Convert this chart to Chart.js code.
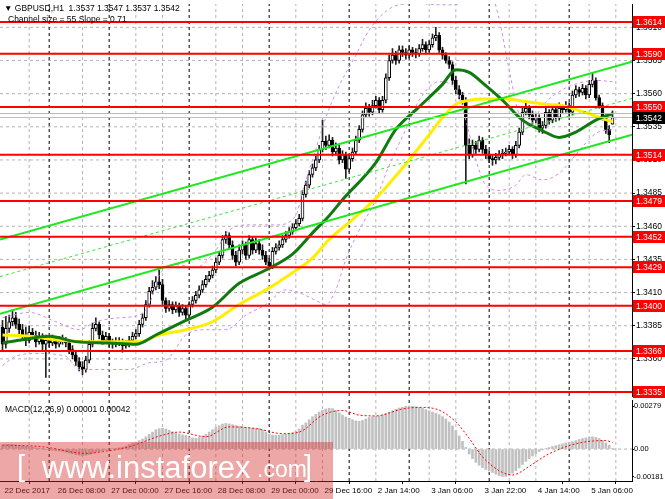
<!DOCTYPE html>
<html>
<head>
<meta charset="utf-8">
<script src="https://cdn.jsdelivr.net/npm/chart.js@4.4.1/dist/chart.umd.min.js"></script>
<style>
  body { margin: 0; background: #fff; }
  #wrap { position: relative; width: 665px; height: 499px; overflow: hidden; font-family: "Liberation Sans", Arial, sans-serif; }
  canvas { position: absolute; left: 0; }
  .txt { position: absolute; font-size: 8.5px; line-height: 1; color: #000; white-space: pre; }
  #wm { position: absolute; left: 0; top: 442px; width: 333px; height: 57px; background: rgba(214, 45, 45, 0.42); color: #fff; }
  #wm span { position: absolute; line-height: 1; white-space: pre; }
</style>
</head>
<body>
<div id="wrap">
  <canvas id="main" width="665" height="399" style="top:0"></canvas>
  <canvas id="macd" width="665" height="100" style="top:399px"></canvas>
  <div class="txt" style="left:4px;top:4px">▼ GBPUSD,H1  1.3537 1.3547 1.3537 1.3542</div>
  <div class="txt" style="left:8px;top:15px">Channel size = 55 Slope = 0.71</div>
  <div class="txt" style="left:5px;top:405px">MACD(12,26,9) 0.00001 0.00042</div>
  <div id="wm">
    <span style="left:17px;top:10px;font-size:29px">[</span>
    <span style="left:42px;top:10px;font-size:31px">www.instaforex</span>
    <span style="left:257px;top:16px;font-size:23px">.com</span>
    <span style="left:304px;top:10px;font-size:29px">]</span>
  </div>
</div>
<script>
'use strict';

// GBPUSD H1, 22 Dec 2017 - 5 Jan 2018, one entry per bar
const openP = [
  1.3384,1.3371,1.3383,1.3388,1.3391,1.3386,1.3382,1.3378,1.3374,1.3380,
  1.3378,1.3373,1.3376,1.3371,1.3374,1.3372,1.3374,1.3371,1.3373,1.3374,
  1.3372,1.3367,1.3363,1.3358,1.3354,1.3352,1.3359,1.3371,1.3383,1.3386,
  1.3378,1.3374,1.3377,1.3372,1.3371,1.3372,1.3373,1.3370,1.3371,1.3374,
  1.3377,1.3379,1.3386,1.3391,1.3401,1.3411,1.3414,1.3418,1.3416,1.3404,
  1.3398,1.3401,1.3397,1.3400,1.3395,1.3398,1.3393,1.3401,1.3404,1.3408,
  1.3412,1.3416,1.3420,1.3423,1.3427,1.3433,1.3438,1.3450,1.3453,1.3446,
  1.3438,1.3433,1.3442,1.3446,1.3438,1.3450,1.3442,1.3447,1.3442,1.3438,
  1.3433,1.3430,1.3441,1.3444,1.3446,1.3450,1.3453,1.3456,1.3459,1.3462,
  1.3466,1.3484,1.3491,1.3499,1.3504,1.3510,1.3518,1.3524,1.3521,1.3525,
  1.3516,1.3519,1.3510,1.3514,1.3503,1.3511,1.3516,1.3525,1.3533,1.3544,
  1.3549,1.3546,1.3551,1.3555,1.3548,1.3555,1.3572,1.3585,1.3589,1.3585,
  1.3593,1.3591,1.3589,1.3593,1.3591,1.3590,1.3594,1.3597,1.3593,1.3597,
  1.3602,1.3604,1.3593,1.3589,1.3585,1.3582,1.3570,1.3563,1.3559,1.3555,
  1.3521,1.3514,1.3521,1.3518,1.3525,1.3518,1.3514,1.3511,1.3510,1.3512,
  1.3514,1.3515,1.3516,1.3518,1.3514,1.3521,1.3531,1.3546,1.3549,1.3544,
  1.3540,1.3542,1.3534,1.3536,1.3546,1.3540,1.3548,1.3542,1.3549,1.3548,
  1.3551,1.3546,1.3559,1.3563,1.3561,1.3564,1.3559,1.3567,1.3570,1.3557,
  1.3551,1.3542,1.3533,1.3537
];
const highP = [
  1.3389,1.3392,1.3393,1.3397,1.3395,1.3390,1.3386,1.3384,1.3385,1.3383,
  1.3381,1.3380,1.3379,1.3378,1.3377,1.3378,1.3376,1.3377,1.3378,1.3376,
  1.3374,1.3370,1.3366,1.3361,1.3358,1.3362,1.3374,1.3387,1.3391,1.3388,
  1.3381,1.3380,1.3379,1.3375,1.3376,1.3376,1.3375,1.3374,1.3377,1.3380,
  1.3382,1.3389,1.3394,1.3404,1.3414,1.3419,1.3422,1.3427,1.3420,1.3406,
  1.3404,1.3403,1.3403,1.3402,1.3401,1.3400,1.3403,1.3407,1.3411,1.3415,
  1.3419,1.3423,1.3426,1.3430,1.3436,1.3441,1.3453,1.3456,1.3455,1.3449,
  1.3441,1.3446,1.3449,1.3448,1.3453,1.3452,1.3451,1.3450,1.3446,1.3441,
  1.3436,1.3444,1.3447,1.3449,1.3453,1.3456,1.3459,1.3462,1.3465,1.3469,
  1.3487,1.3494,1.3502,1.3507,1.3513,1.3521,1.3540,1.3528,1.3529,1.3527,
  1.3523,1.3521,1.3517,1.3516,1.3514,1.3519,1.3528,1.3536,1.3547,1.3553,
  1.3552,1.3555,1.3558,1.3557,1.3558,1.3575,1.3589,1.3594,1.3592,1.3596,
  1.3596,1.3594,1.3596,1.3595,1.3594,1.3597,1.3601,1.3599,1.3600,1.3605,
  1.3610,1.3606,1.3595,1.3591,1.3588,1.3584,1.3573,1.3566,1.3561,1.3557,
  1.3526,1.3525,1.3524,1.3528,1.3527,1.3521,1.3517,1.3514,1.3515,1.3517,
  1.3518,1.3519,1.3521,1.3520,1.3524,1.3534,1.3550,1.3553,1.3551,1.3547,
  1.3545,1.3544,1.3539,1.3549,1.3548,1.3551,1.3550,1.3553,1.3551,1.3554,
  1.3553,1.3562,1.3566,1.3565,1.3567,1.3566,1.3570,1.3576,1.3572,1.3559,
  1.3553,1.3544,1.3536,1.3547
];
const lowP = [
  1.3366,1.3368,1.3380,1.3385,1.3383,1.3379,1.3375,1.3370,1.3372,1.3375,
  1.3369,1.3371,1.3367,1.3346,1.3369,1.3370,1.3368,1.3369,1.3371,1.3369,
  1.3364,1.3360,1.3355,1.3351,1.3348,1.3350,1.3357,1.3369,1.3381,1.3375,
  1.3371,1.3372,1.3369,1.3368,1.3369,1.3370,1.3365,1.3368,1.3369,1.3372,
  1.3375,1.3377,1.3384,1.3389,1.3399,1.3409,1.3412,1.3413,1.3401,1.3395,
  1.3396,1.3394,1.3395,1.3392,1.3393,1.3390,1.3391,1.3399,1.3402,1.3406,
  1.3410,1.3414,1.3418,1.3421,1.3425,1.3431,1.3436,1.3447,1.3443,1.3435,
  1.3430,1.3431,1.3439,1.3435,1.3436,1.3439,1.3440,1.3439,1.3435,1.3431,
  1.3427,1.3428,1.3439,1.3442,1.3444,1.3448,1.3451,1.3454,1.3457,1.3460,
  1.3464,1.3482,1.3489,1.3497,1.3502,1.3508,1.3516,1.3518,1.3519,1.3513,
  1.3514,1.3507,1.3508,1.3496,1.3501,1.3509,1.3514,1.3523,1.3531,1.3542,
  1.3543,1.3544,1.3549,1.3545,1.3546,1.3553,1.3570,1.3583,1.3582,1.3583,
  1.3588,1.3586,1.3587,1.3588,1.3587,1.3588,1.3592,1.3590,1.3591,1.3595,
  1.3600,1.3591,1.3586,1.3583,1.3579,1.3567,1.3560,1.3556,1.3552,1.3492,
  1.3511,1.3512,1.3515,1.3516,1.3515,1.3511,1.3508,1.3506,1.3507,1.3510,
  1.3511,1.3513,1.3514,1.3511,1.3512,1.3519,1.3529,1.3544,1.3541,1.3537,
  1.3538,1.3531,1.3530,1.3534,1.3537,1.3538,1.3539,1.3540,1.3545,1.3546,
  1.3543,1.3544,1.3557,1.3558,1.3559,1.3556,1.3557,1.3565,1.3555,1.3549,
  1.3540,1.3530,1.3523,1.3537
];
const closeP = [
  1.3371,1.3383,1.3388,1.3391,1.3386,1.3382,1.3378,1.3374,1.3380,1.3378,
  1.3373,1.3376,1.3371,1.3374,1.3372,1.3374,1.3371,1.3373,1.3374,1.3372,
  1.3367,1.3363,1.3358,1.3354,1.3352,1.3359,1.3371,1.3383,1.3386,1.3378,
  1.3374,1.3377,1.3372,1.3371,1.3372,1.3373,1.3370,1.3371,1.3374,1.3377,
  1.3379,1.3386,1.3391,1.3401,1.3411,1.3414,1.3418,1.3416,1.3404,1.3398,
  1.3401,1.3397,1.3400,1.3395,1.3398,1.3393,1.3401,1.3404,1.3408,1.3412,
  1.3416,1.3420,1.3423,1.3427,1.3433,1.3438,1.3450,1.3453,1.3446,1.3438,
  1.3433,1.3442,1.3446,1.3438,1.3450,1.3442,1.3447,1.3442,1.3438,1.3433,
  1.3430,1.3441,1.3444,1.3446,1.3450,1.3453,1.3456,1.3459,1.3462,1.3466,
  1.3484,1.3491,1.3499,1.3504,1.3510,1.3518,1.3524,1.3521,1.3525,1.3516,
  1.3519,1.3510,1.3514,1.3503,1.3511,1.3516,1.3525,1.3533,1.3544,1.3549,
  1.3546,1.3551,1.3555,1.3548,1.3555,1.3572,1.3585,1.3589,1.3585,1.3593,
  1.3591,1.3589,1.3593,1.3591,1.3590,1.3594,1.3597,1.3593,1.3597,1.3602,
  1.3604,1.3593,1.3589,1.3585,1.3582,1.3570,1.3563,1.3559,1.3555,1.3521,
  1.3514,1.3521,1.3518,1.3525,1.3518,1.3514,1.3511,1.3510,1.3512,1.3514,
  1.3515,1.3516,1.3518,1.3514,1.3521,1.3531,1.3546,1.3549,1.3544,1.3540,
  1.3542,1.3534,1.3536,1.3546,1.3540,1.3548,1.3542,1.3549,1.3548,1.3551,
  1.3546,1.3559,1.3563,1.3561,1.3564,1.3559,1.3567,1.3570,1.3557,1.3551,
  1.3542,1.3533,1.3529,1.3542
];

// moving averages (read at bar index)
const yellowMaBars = [0,8,17,26,35,41,47,55,63,71,79,87,93,98,105,112,117,122,128,132,136,140,145,151,157,163,168,172,177,180,183];
const yellowMaVals = [1.3378,1.3377,1.3374,1.3373,1.3373,1.3373,1.3378,1.3382,1.3388,1.3401,1.3412,1.3425,1.3436,1.3450,1.3465,1.3481,1.3495,1.3510,1.3529,1.3542,1.3552,1.3555,1.3556,1.3556,1.3554,1.3552,1.3551,1.3548,1.3544,1.3541,1.3539];
const greenMaBars = [0,5,14,22,32,40,46,55,63,71,79,87,93,98,102,112,118,125,132,136,140,145,150,156,162,167,172,178,183];
const greenMaVals = [1.3372,1.3374,1.3377,1.3373,1.3372,1.3371,1.3378,1.3389,1.3399,1.3417,1.3427,1.3439,1.3455,1.3468,1.3480,1.3508,1.3533,1.3550,1.3567,1.3578,1.3576,1.3566,1.3555,1.3540,1.3532,1.3527,1.3531,1.3540,1.3545];

// bands (purple dotted)
const bandUpBars = [0,8,16,23,28,35,41,44,47,52,58,64,68,74,82,88,90,94,97,101,106,110,115,119,125,131,136,140,146,149,152,155,158,162,168,173,178,183];
const bandUpVals = [1.3391,1.3395,1.3388,1.3382,1.3388,1.3391,1.3393,1.3401,1.3423,1.3431,1.3429,1.3442,1.3457,1.3461,1.3461,1.3468,1.3486,1.3518,1.3542,1.3566,1.3589,1.3608,1.3622,1.3627,1.3628,1.3627,1.3627,1.3634,1.3638,1.3616,1.3578,1.3544,1.3536,1.3551,1.3563,1.3568,1.3570,1.3569];
const bandLowBars = [0,4,10,19,23,38,44,49,55,61,67,73,79,85,89,94,97,100,103,107,112,116,121,125,131,136,139,142,145,149,154,157,162,167,172,178,183];
const bandLowVals = [1.3355,1.3362,1.3364,1.3362,1.3352,1.3352,1.3357,1.3359,1.3378,1.3382,1.3382,1.3393,1.3401,1.3412,1.3410,1.3404,1.3401,1.3412,1.3435,1.3457,1.3480,1.3506,1.3533,1.3555,1.3569,1.3563,1.3540,1.3510,1.3491,1.3487,1.3491,1.3499,1.3495,1.3500,1.3514,1.3530,1.3533];

// regression channel end points
const channelBars = [-0.75, 188.85];
const channelUpper = [1.3450, 1.3584];
const channelMid = [1.3422, 1.35565];
const channelLower = [1.3394, 1.3529];

// horizontal levels
const levels = [1.3614, 1.3590, 1.3550, 1.3514, 1.3479, 1.3452, 1.3429, 1.3400, 1.3366, 1.3335];
const bidPrice = 1.3542;
const askPrice = 1.3545;
const priceTicks = [1.3335, 1.3360, 1.3385, 1.3410, 1.3435, 1.3460, 1.3485, 1.3510, 1.3535, 1.3560, 1.3585, 1.3610];
const priceMin = 1.3332, priceMax = 1.36276;

// MACD(12,26,9)
const macdHist = [
  0.00025,0.00028,0.00030,0.00030,0.00028,0.00025,0.00022,0.00018,0.00015,0.00012,
  0.00008,0.00005,0.00002,-0.00002,-0.00005,-0.00008,-0.00010,-0.00012,-0.00015,-0.00020,
  -0.00025,-0.00030,-0.00036,-0.00040,-0.00042,-0.00040,-0.00035,-0.00028,-0.00020,-0.00015,
  -0.00010,-0.00005,0.00000,0.00003,0.00004,0.00008,0.00012,0.00018,0.00030,0.00040,
  0.00045,0.00055,0.00065,0.00080,0.00095,0.00110,0.00125,0.00132,0.00135,0.00130,
  0.00122,0.00112,0.00103,0.00097,0.00092,0.00088,0.00078,0.00072,0.00069,0.00075,
  0.00085,0.00095,0.00110,0.00125,0.00140,0.00152,0.00162,0.00166,0.00163,0.00158,
  0.00152,0.00148,0.00144,0.00140,0.00138,0.00136,0.00134,0.00133,0.00125,0.00110,
  0.00098,0.00090,0.00088,0.00090,0.00093,0.00097,0.00100,0.00105,0.00115,0.00130,
  0.00155,0.00170,0.00190,0.00210,0.00225,0.00240,0.00252,0.00260,0.00265,0.00262,
  0.00250,0.00235,0.00220,0.00208,0.00198,0.00190,0.00183,0.00180,0.00185,0.00195,
  0.00205,0.00210,0.00212,0.00215,0.00222,0.00230,0.00238,0.00248,0.00258,0.00266,
  0.00272,0.00277,0.00279,0.00278,0.00274,0.00270,0.00264,0.00256,0.00248,0.00240,
  0.00232,0.00223,0.00210,0.00195,0.00175,0.00150,0.00120,0.00085,0.00050,0.00010,
  -0.00032,-0.00062,-0.00086,-0.00105,-0.00120,-0.00132,-0.00142,-0.00152,-0.00163,-0.00172,
  -0.00177,-0.00178,-0.00170,-0.00156,-0.00140,-0.00122,-0.00100,-0.00080,-0.00062,-0.00045,
  -0.00030,-0.00016,-0.00006,0.00002,0.00010,0.00016,0.00022,0.00028,0.00034,0.00040,
  0.00044,0.00048,0.00055,0.00062,0.00068,0.00073,0.00077,0.00079,0.00075,0.00068,
  0.00056,0.00040,0.00025,0.00001
];
const signalBars = [0,12,25,30,38,48,53,61,68,76,84,89,96,102,107,112,120,125,130,136,140,144,149,153,158,163,169,175,181,183];
const signalVals = [0.00026,0.00015,-0.00028,-0.00017,0.00015,0.00090,0.00110,0.00080,0.00144,0.00133,0.00100,0.00110,0.00220,0.00250,0.00220,0.00215,0.00260,0.00270,0.00260,0.00176,0.00069,-0.00050,-0.00140,-0.00168,-0.00112,-0.00042,0.00015,0.00047,0.00055,0.00042];
const macdTicks = [-0.00181, 0, 0.00279];
const macdMin = -0.00207, macdMax = 0.00318;

// time axis
const timeLabels = ['22 Dec 2017','26 Dec 08:00','27 Dec 00:00','27 Dec 16:00','28 Dec 08:00','29 Dec 00:00','29 Dec 16:00','2 Jan 14:00','3 Jan 06:00','3 Jan 22:00','4 Jan 14:00','5 Jan 06:00'];
const timeLabelBars = [0,16,32,48,64,80,96,112,128,144,160,176];
const separatorBars = [14,32,56,80,104,122,146,170];
const gridStep = 8;
const xMin = -0.75, xMax = 188.85;

Chart.defaults.font.family = '"Liberation Sans", Arial, sans-serif';
Chart.defaults.font.size = 8.5;
Chart.defaults.color = '#000';

const gridColor = '#b4b4b4';
const pts = (xs, ys) => xs.map((x, k) => ({ x: x, y: ys[k] }));

function lineSet(data, color, width, order, dash, straight) {
  return {
    type: 'line', data: data, borderColor: color, borderWidth: width,
    borderDash: dash || [], pointRadius: 0, fill: false, order: order,
    tension: 0, cubicInterpolationMode: straight ? 'default' : 'monotone'
  };
}

// grid rules drawn as straight dashed datasets, behind everything else
const gridBars = [];
for (let b = gridStep; b < xMax; b += gridStep) {
  if (!separatorBars.some(s => Math.abs(s - b) < 3)) gridBars.push(b);
}
function gridSets(lo, hi, hVals) {
  const out = [];
  hVals.forEach(v => out.push(lineSet(pts([xMin, xMax], [v, v]), gridColor, 1, 20, [3, 3], true)));
  gridBars.forEach(b => out.push(lineSet(pts([b, b], [lo, hi]), gridColor, 1, 20, [3, 3], true)));
  separatorBars.forEach(b => out.push(lineSet(pts([b, b], [lo, hi]), '#000', 1, 19, [3, 3], true)));
  return out;
}

// price boxes on the right scale
const priceBoxes = {
  id: 'priceBoxes',
  afterDraw(chart) {
    const ctx = chart.ctx;
    const y = chart.scales.y;
    const box = (v, bg) => {
      const py = Math.round(y.getPixelForValue(v));
      ctx.fillStyle = bg;
      ctx.fillRect(633, py - 6, 32, 12);
      ctx.fillStyle = '#fff';
      ctx.font = '8.5px "Liberation Sans", Arial, sans-serif';
      ctx.textBaseline = 'middle';
      ctx.fillText(v.toFixed(4), 636, py + 0.5);
    };
    ctx.save();
    levels.forEach(v => box(v, '#ff0000'));
    box(bidPrice, '#000000');
    ctx.restore();
  }
};

const noPad = s => { s.paddingTop = 0; s.paddingBottom = 0; s.paddingLeft = 0; s.paddingRight = 0; };

const mainSets = gridSets(priceMin, priceMax, priceTicks);
levels.forEach(v => mainSets.push(lineSet(pts([xMin, xMax], [v, v]), '#ff0000', 2, 1, null, true)));
mainSets.push(lineSet(pts([xMin, xMax], [askPrice, askPrice]), '#ffa07a', 1, 1, null, true));
mainSets.push(lineSet(pts([xMin, xMax], [bidPrice, bidPrice]), '#c0c0c0', 1, 1, null, true));
mainSets.push(lineSet(pts(channelBars, channelUpper), 'rgb(30,232,30)', 2, 2, null, true));
mainSets.push(lineSet(pts(channelBars, channelLower), 'rgb(30,232,30)', 2, 2, null, true));
mainSets.push(lineSet(pts(channelBars, channelMid), 'rgb(60,225,60)', 1, 2, [3, 3], true));
mainSets.push(lineSet(pts(greenMaBars, greenMaVals), 'rgb(16,122,16)', 3, 3));
mainSets.push(lineSet(pts(yellowMaBars, yellowMaVals), 'rgb(255,238,0)', 3, 4));
mainSets.push(lineSet(pts(bandUpBars, bandUpVals), 'rgb(204,140,236)', 1, 5, [3, 3]));
mainSets.push(lineSet(pts(bandLowBars, bandLowVals), 'rgb(204,140,236)', 1, 5, [3, 3]));
mainSets.push({
  type: 'bar', order: 6, grouped: false, barThickness: 3, minBarLength: 1,
  data: closeP.map((c, i) => ({ x: i, y: [openP[i], c] })),
  backgroundColor: ctx => closeP[ctx.dataIndex] >= openP[ctx.dataIndex] ? '#ffffff' : '#000000',
  borderColor: '#000', borderWidth: 1, borderSkipped: false
});
mainSets.push({
  type: 'bar', order: 7, grouped: false, barThickness: 1,
  data: closeP.map((c, i) => ({ x: i, y: [lowP[i], highP[i]] })),
  backgroundColor: '#222', borderWidth: 0
});

new Chart(document.getElementById('main'), {
  type: 'bar',
  data: { datasets: mainSets },
  options: {
    responsive: false, animation: false, devicePixelRatio: 1,
    layout: { padding: { left: 0, right: 0, top: 4, bottom: 3 } },
    plugins: { legend: { display: false }, tooltip: { enabled: false } },
    scales: {
      x: { type: 'linear', min: xMin, max: xMax, offset: false, display: false },
      y: {
        position: 'right', min: priceMin, max: priceMax,
        afterBuildTicks(s) { s.ticks = priceTicks.map(v => ({ value: v })); },
        afterFit(s) { s.width = 33; noPad(s); },
        grid: { drawOnChartArea: false, tickColor: '#000', tickLength: 3 },
        border: { display: true, color: '#000' },
        ticks: { autoSkip: false, padding: 1, callback: v => v.toFixed(4) }
      }
    }
  },
  plugins: [priceBoxes]
});

const macdSets = gridSets(macdMin, macdMax, [0]);
macdSets.push(lineSet(pts(signalBars, signalVals), '#ff0000', 1, 1, [2, 2]));
macdSets.push({
  type: 'bar', order: 2, grouped: false, barThickness: 2,
  data: macdHist.map((v, i) => ({ x: i, y: v })),
  backgroundColor: '#c0c0c0', borderWidth: 0
});

new Chart(document.getElementById('macd'), {
  type: 'bar',
  data: { datasets: macdSets },
  options: {
    responsive: false, animation: false, devicePixelRatio: 1,
    layout: { padding: { left: 0, right: 0, top: 1, bottom: 0 } },
    plugins: { legend: { display: false }, tooltip: { enabled: false } },
    scales: {
      x: {
        type: 'linear', min: xMin, max: xMax, offset: false,
        afterBuildTicks(s) { s.ticks = timeLabelBars.map(v => ({ value: v })); },
        afterFit(s) { s.height = 18; noPad(s); },
        grid: { display: true, drawOnChartArea: false, drawTicks: true, tickLength: 3, color: '#000' },
        border: { display: true, color: '#000' },
        ticks: { autoSkip: false, maxRotation: 0, align: 'start', labelOffset: 2, padding: 2, font: { size: 8 },
                 callback: (v, i) => timeLabels[i] }
      },
      y: {
        position: 'right', min: macdMin, max: macdMax,
        afterBuildTicks(s) { s.ticks = macdTicks.map(v => ({ value: v })); },
        afterFit(s) { s.width = 33; noPad(s); },
        grid: { drawOnChartArea: false, tickColor: '#000', tickLength: 2 },
        border: { display: true, color: '#000' },
        ticks: { autoSkip: false, padding: 0, font: { size: 7.5 }, callback: v => v === 0 ? '0.00' : v.toFixed(5) }
      }
    }
  }
});
</script>
</body>
</html>
